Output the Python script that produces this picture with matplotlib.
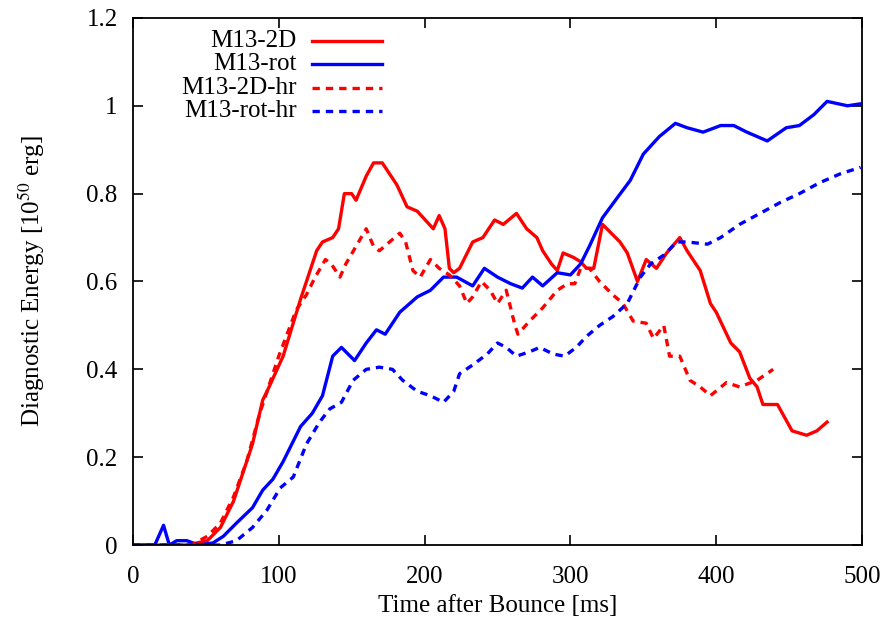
import numpy as np
import matplotlib.pyplot as plt

plt.rcParams['font.family'] = ['Liberation Serif', 'DejaVu Serif']
plt.rcParams['mathtext.fontset'] = 'stix'

# M13-2D
t_2d = [0, 10, 20, 30, 40, 44, 51, 60, 69, 75, 82, 89, 92, 103, 115, 126, 130, 137, 141, 145,
        150, 153, 160, 165, 171, 181, 188, 195, 206, 210, 214, 217, 220, 224, 233, 240, 248, 254,
        263, 270, 277, 281, 287, 291, 295, 302, 307, 311, 316, 322, 328, 334, 339, 346, 352, 359,
        366, 375, 380, 389, 396, 400, 410, 416, 423, 428, 432, 442, 452, 462, 469, 476]
e_2d = [0, 0, 0, 0, 0, 0.005, 0.01, 0.04, 0.10, 0.16, 0.23, 0.33, 0.35, 0.43, 0.56, 0.67, 0.69,
        0.70, 0.72, 0.80, 0.80, 0.785, 0.84, 0.87, 0.87, 0.82, 0.77, 0.76, 0.72, 0.75, 0.72, 0.63,
        0.62, 0.63, 0.69, 0.70, 0.74, 0.73, 0.755, 0.72, 0.70, 0.67, 0.64, 0.625, 0.665, 0.655,
        0.645, 0.63, 0.63, 0.73, 0.71, 0.69, 0.665, 0.60, 0.65, 0.63, 0.665, 0.70, 0.67, 0.625,
        0.55, 0.53, 0.46, 0.44, 0.38, 0.36, 0.32, 0.32, 0.26, 0.25, 0.26, 0.28]

# M13-rot
t_rot = [0, 15, 21, 25, 30, 37, 45, 55, 62, 71, 82, 89, 96, 103, 115, 123, 130, 137, 143, 152,
         160, 167, 173, 183, 195, 204, 213, 222, 233, 241, 250, 259, 267, 274, 281, 291, 300, 307,
         313, 322, 332, 341, 350, 361, 372, 380, 391, 403, 412, 421, 435, 448, 457, 467, 476, 490, 500]
e_rot = [0, 0, 0.045, 0, 0.01, 0.01, 0, 0.005, 0.02, 0.05, 0.085, 0.125, 0.15, 0.19, 0.27, 0.30,
         0.34, 0.43, 0.45, 0.42, 0.46, 0.49, 0.48, 0.53, 0.565, 0.58, 0.61, 0.61, 0.59, 0.63, 0.61,
         0.595, 0.585, 0.61, 0.59, 0.62, 0.615, 0.64, 0.68, 0.745, 0.79, 0.83, 0.89, 0.93, 0.96,
         0.95, 0.94, 0.955, 0.955, 0.94, 0.92, 0.95, 0.955, 0.98, 1.01, 1.0, 1.005]

# M13-2D-hr
t_2d_hr = [20, 40, 51, 60, 69, 78, 87, 100, 112, 119, 125, 132, 136, 142, 146, 153, 160, 165,
           169, 176, 183, 187, 192, 197, 204, 210, 217, 224, 229, 233, 239, 245, 250, 256, 262,
           264, 272, 281, 291, 298, 303, 307, 313, 320, 329, 336, 343, 352, 357, 364, 368, 375,
           382, 389, 396, 407, 416, 428, 439]
e_2d_hr = [0, 0, 0.02, 0.05, 0.11, 0.19, 0.30, 0.43, 0.535, 0.57, 0.61, 0.65, 0.64, 0.61, 0.64,
           0.68, 0.72, 0.68, 0.67, 0.69, 0.71, 0.69, 0.625, 0.61, 0.65, 0.63, 0.615, 0.59, 0.55,
           0.565, 0.60, 0.58, 0.55, 0.58, 0.50, 0.48, 0.51, 0.54, 0.58, 0.595, 0.595, 0.63, 0.63,
           0.60, 0.57, 0.55, 0.51, 0.505, 0.47, 0.50, 0.43, 0.43, 0.375, 0.36, 0.34, 0.37, 0.36,
           0.375, 0.40]

# M13-rot-hr
t_rot_hr = [0, 30, 60, 71, 82, 92, 101, 110, 119, 128, 135, 143, 151, 160, 169, 178, 185, 195,
            204, 213, 220, 224, 233, 243, 250, 256, 263, 272, 279, 288, 296, 304, 311, 320, 329,
            339, 348, 355, 364, 373, 380, 394, 403, 416, 430, 444, 457, 471, 485, 499]
e_rot_hr = [0, 0, 0, 0.01, 0.04, 0.08, 0.13, 0.155, 0.23, 0.28, 0.31, 0.325, 0.375, 0.40, 0.405,
            0.40, 0.375, 0.35, 0.34, 0.325, 0.35, 0.39, 0.41, 0.435, 0.46, 0.45, 0.43, 0.44, 0.45,
            0.435, 0.43, 0.45, 0.475, 0.50, 0.52, 0.55, 0.61, 0.64, 0.66, 0.69, 0.69, 0.685, 0.70,
            0.73, 0.755, 0.78, 0.80, 0.825, 0.845, 0.86]

series = [
    ("M13-2D", t_2d, e_2d, 'red', '-'),
    ("M13-rot", t_rot, e_rot, 'blue', '-'),
    ("M13-2D-hr", t_2d_hr, e_2d_hr, 'red', (0, (2.2, 1.8))),
    ("M13-rot-hr", t_rot_hr, e_rot_hr, 'blue', (0, (2.2, 1.8))),
]

fs = 18
fig = plt.figure(figsize=(8.86, 6.18), dpi=100)
ax = fig.add_axes([0.150, 0.118, 0.823, 0.853])

lw = 2.4
for name, t, e, c, ls in series:
    ax.plot(t, e, color=c, linestyle=ls, linewidth=lw)

# key in the upper left corner: label on the left, sample line on the right
ypos = [0.956, 0.913, 0.868, 0.824]
for (name, t, e, c, ls), yk in zip(series, ypos):
    ax.text(0.225, yk, name, transform=ax.transAxes, ha='right', va='center', fontsize=fs)
    ax.plot([0.246, 0.342], [yk, yk], transform=ax.transAxes, color=c, linestyle=ls, linewidth=lw)

ax.set_xlim(0, 500)
ax.set_ylim(0, 1.2)
ax.set_xticks(np.arange(0, 501, 100))
ax.set_yticks(np.arange(0, 1.21, 0.2))
ax.set_yticklabels(['0', '0.2', '0.4', '0.6', '0.8', '1', '1.2'])
ax.tick_params(direction='in', top=True, right=True, length=7, width=1.2, labelsize=fs)
ax.tick_params(axis='x', pad=15)
ax.tick_params(axis='y', pad=11)
for sp in ax.spines.values():
    sp.set_linewidth(1.3)

ax.set_xlabel('Time after Bounce [ms]', fontsize=fs, labelpad=5)
ax.set_ylabel(r'Diagnostic Energy [10$^{50}$ erg]', fontsize=fs, labelpad=28)

fig.savefig('out.png', dpi=100)
